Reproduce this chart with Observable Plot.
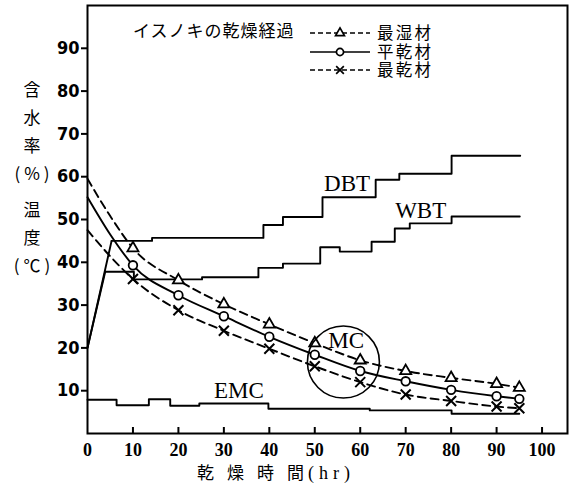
<!DOCTYPE html>
<html>
<head>
<meta charset="utf-8">
<script src="https://cdn.jsdelivr.net/npm/d3@7"></script>
<script src="https://cdn.jsdelivr.net/npm/@observablehq/plot@0.6"></script>
<style>
  body { margin: 0; background: #fff; }
  #chart { position: relative; width: 576px; height: 489px; overflow: hidden; }
  .jp { position: absolute; font-family: "Noto Sans CJK JP", sans-serif; color: #000; white-space: nowrap; }
  #title { left: 133px; top: 21px; font-size: 17px; line-height: 17px; letter-spacing: 1px; }
  #legend { left: 310px; top: 24px; }
  #legend .row { display: flex; align-items: center; height: 18.5px; }
  #legend .row span { display: inline-block; height: 16px; line-height: 16px; margin-left: 7px;
    font-family: "Liberation Sans", "Noto Sans CJK JP", sans-serif; font-size: 16.5px; letter-spacing: 2.3px; }
  #ylabel { left: 8px; top: 75px; width: 48px; text-align: center; font-size: 17px; }
  #ylabel div { height: 28px; line-height: 28px; }
  #ylabel .paren { letter-spacing: 4px; margin-left: 4px; }
  #ylabel .gap { margin-bottom: 8px; }
  #xlabel { left: 197px; top: 465px; font-family: "Liberation Serif", "Noto Sans CJK JP", serif; font-size: 17px; line-height: 17px; }
  #xlabel .sp { letter-spacing: 13px; }
  #xunit { position: absolute; left: 308px; top: 464px; font: 18px/18px "Liberation Serif", serif; letter-spacing: 5px; }
</style>
</head>
<body>
<div id="chart"></div>
<script>
// Drying hours at which moisture content was sampled
const hours = [0, 5, 10, 20, 30, 40, 50, 60, 70, 80, 90, 95];
// Moisture content (%) of the wettest, average and driest boards
const mcWettest = [59.5, 50.8, 43.3, 35.8, 30.2, 25.5, 21.1, 17.1, 14.6, 13.0, 11.6, 10.7];
const mcAverage = [55.2, 46.5, 39.3, 32.3, 27.4, 22.6, 18.4, 14.6, 12.2, 10.2, 8.7, 8.1];
const mcDriest  = [47.5, 41.4, 36.1, 28.8, 24.0, 19.8, 15.7, 12.0, 9.1, 7.6, 6.3, 5.9];

// Dry-bulb temperature schedule (°C): warm-up ramp, then steps
const dbtHours = [0, 5.3, 14.2, 38.7, 43, 51.7, 63.4, 68.6, 80.1, 95.2];
const dbtTemp  = [20, 45, 45.7, 48.7, 50.6, 55.2, 59.3, 60.7, 64.9, 64.9];
// Wet-bulb temperature schedule (°C)
const wbtHours = [0, 3.9, 10.2, 25.2, 37.6, 43, 51.2, 55.5, 62.5, 67.6, 70.9, 80.1, 95.1];
const wbtTemp  = [20, 37.8, 36.0, 36.5, 38.7, 39.7, 43.5, 42.5, 44.8, 47.9, 49.1, 50.7, 50.7];
// Equilibrium moisture content (%)
const emcHours = [0, 6.4, 13.5, 18.2, 24.6, 39.8, 62.1, 80.1, 95];
const emcValue = [7.9, 6.6, 8.0, 6.5, 7.0, 5.8, 5.4, 4.6, 4.6];

const xTicks = [0, 10, 20, 30, 40, 50, 60, 70, 80, 90, 100];
const yTicks = [10, 20, 30, 40, 50, 60, 70, 80, 90];

// Curve labels and the ring around the moisture curves
const curveLabels = [
  {text: "DBT", h: 57.1, v: 58.3},
  {text: "WBT", h: 73.3, v: 52.1},
  {text: "EMC", h: 33.3, v: 10.0},
  {text: "MC",  h: 56.9, v: 21.7}
];
const mcRing = [{h: 56.3, v: 16.7}];

const series = (xs, ys) => xs.map((x, i) => ({x, y: ys[i]}));
const wet = series(hours, mcWettest);
const avg = series(hours, mcAverage);
const dry = series(hours, mcDriest);
const dbt = series(dbtHours, dbtTemp);
const wbt = series(wbtHours, wbtTemp);
const emc = series(emcHours, emcValue);
const sampled = d => d.x >= 10;

const W = 576, H = 489, mT = 5, mB = 56;
const lineW = 1.9;

const chart = Plot.plot({
  width: W,
  height: H,
  marginLeft: 87,
  marginRight: 9,
  marginTop: mT,
  marginBottom: mB,
  x: {domain: [0, 105.6]},
  y: {domain: [0, 100]},
  style: {background: "white", color: "black"},
  marks: [
    Plot.frame({strokeWidth: 2}),
    Plot.axisY(yTicks, {tickSize: 6, tickPadding: 2, strokeWidth: 2, fontSize: 18, fontWeight: "bold",
      fontFamily: "DejaVu Sans Condensed, DejaVu Sans, sans-serif", label: null}),
    Plot.axisX(xTicks, {tickSize: 0, tickPadding: 10, fontSize: 18, fontWeight: "bold",
      fontFamily: "Liberation Serif, serif", label: null}),
    // inward tick marks along the time axis
    Plot.tickX(xTicks.filter(t => t > 0), {x: d => d, insetTop: H - mT - mB - 6, strokeWidth: 2}),

    // temperature schedules and EMC
    Plot.line(dbt.slice(0, 2), {x: "x", y: "y", stroke: "black", strokeWidth: lineW}),
    Plot.line(dbt.slice(1), {x: "x", y: "y", curve: "step-after", stroke: "black", strokeWidth: lineW}),
    Plot.line(wbt.slice(0, 2), {x: "x", y: "y", stroke: "black", strokeWidth: lineW}),
    Plot.line(wbt.slice(1), {x: "x", y: "y", curve: "step-after", stroke: "black", strokeWidth: lineW}),
    Plot.line(emc, {x: "x", y: "y", curve: "step-after", stroke: "black", strokeWidth: lineW}),

    // moisture content curves
    Plot.line(wet, {x: "x", y: "y", curve: "monotone-x", stroke: "black", strokeWidth: lineW, strokeDasharray: "8,5"}),
    Plot.line(avg, {x: "x", y: "y", curve: "monotone-x", stroke: "black", strokeWidth: lineW}),
    Plot.line(dry, {x: "x", y: "y", curve: "monotone-x", stroke: "black", strokeWidth: lineW, strokeDasharray: "8,5"}),
    Plot.dot(wet.filter(sampled), {x: "x", y: "y", symbol: "triangle", r: 4.1, fill: "white", stroke: "black", strokeWidth: 1.8}),
    Plot.dot(avg.filter(sampled), {x: "x", y: "y", symbol: "circle", r: 4.3, fill: "white", stroke: "black", strokeWidth: 1.8}),
    Plot.dot(dry.filter(sampled), {x: "x", y: "y", symbol: "times", r: 4.6, stroke: "black", strokeWidth: 2}),

    Plot.dot(mcRing, {x: "h", y: "v", r: 36, fill: "none", stroke: "black", strokeWidth: 1.6}),
    Plot.text(curveLabels, {x: "h", y: "v", text: "text", fontSize: 23, fill: "black",
      fontFamily: "Liberation Serif, serif", textAnchor: "middle", lineAnchor: "middle"})
  ]
});

const root = document.getElementById("chart");
root.appendChild(chart);

function addDiv(id, cls, html) {
  const el = document.createElement("div");
  el.id = id;
  el.className = cls;
  el.innerHTML = html;
  root.appendChild(el);
  return el;
}

addDiv("title", "jp", "イスノキの乾燥経過");

// legend: line style with its marker
const legendItems = [
  {label: "最湿材", dash: "5,3", symbol: "triangle"},
  {label: "平乾材", dash: null, symbol: "circle"},
  {label: "最乾材", dash: "5,3", symbol: "times"}
];
const legend = addDiv("legend", "jp", "");
for (const item of legendItems) {
  const row = document.createElement("div");
  row.className = "row";
  const svg = d3.create("svg").attr("width", 60).attr("height", 18);
  svg.append("line").attr("x1", 0).attr("x2", 60).attr("y1", 9).attr("y2", 9)
    .attr("stroke", "black").attr("stroke-width", 1.6)
    .attr("stroke-dasharray", item.dash);
  const sym = item.symbol === "triangle" ? d3.symbolTriangle : item.symbol === "circle" ? d3.symbolCircle : d3.symbolTimes;
  svg.append("path").attr("transform", "translate(30,9)")
    .attr("d", d3.symbol(sym, item.symbol === "triangle" ? 34 : 40)())
    .attr("fill", item.symbol === "times" ? "none" : "white")
    .attr("stroke", "black").attr("stroke-width", 1.7);
  row.appendChild(svg.node());
  const t = document.createElement("span");
  t.textContent = item.label;
  row.appendChild(t);
  legend.appendChild(row);
}

addDiv("ylabel", "jp",
  "<div>含</div><div>水</div><div>率</div><div class='gap'><span class='paren'>(%)</span></div>" +
  "<div>温</div><div>度</div><div><span class='paren'>(℃)</span></div>");
addDiv("xlabel", "jp", "<span class='sp'>乾燥時</span>間");
const unit = document.createElement("div");
unit.id = "xunit";
unit.textContent = "(hr)";
root.appendChild(unit);
</script>
</body>
</html>
